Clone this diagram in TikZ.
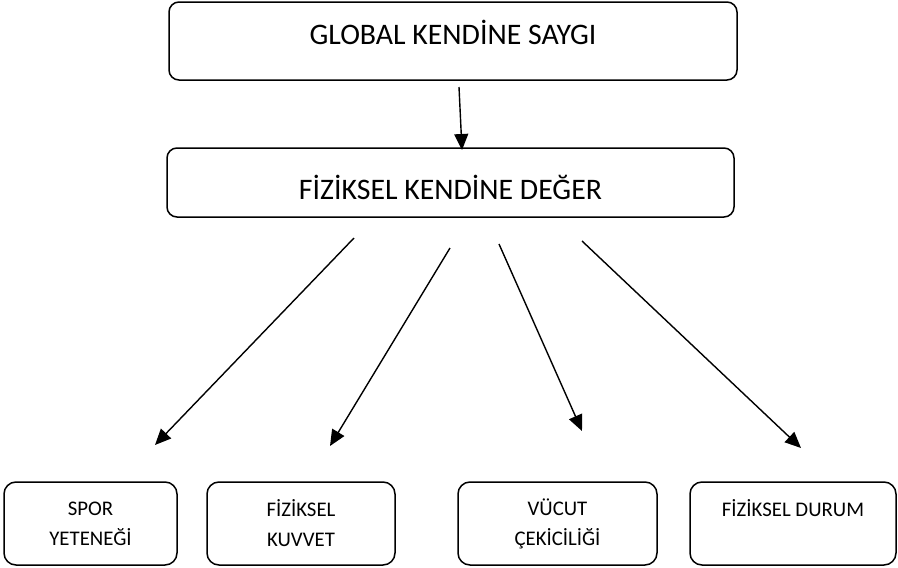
\documentclass[tikz,border=0pt]{standalone}
\usepackage{fontspec}
\setmainfont{Carlito}
\usetikzlibrary{arrows.meta}

\begin{document}
\begin{tikzpicture}
[x=1pt, y=-1pt, line width=1.5pt]
\tikzstyle{bigbox}=[draw, rounded corners=10pt, inner sep=0pt, font=\fontsize{29.8}{35}\selectfont]
\tikzstyle{smallbox}=[draw, rounded corners=12pt, inner sep=0pt, minimum height=83pt, align=center, font=\fontsize{20.8}{30}\selectfont]
\tikzstyle{link}=[-{Triangle[length=16pt, width=14pt]}, line width=1.4pt]
\useasboundingbox (0,0) rectangle (898,568);

\node[bigbox, minimum width=568pt, minimum height=78pt, text height=19pt, text depth=12pt] (GKS) at (453,41)  {GLOBAL KENDİNE SAYGI};
\node[bigbox, minimum width=567pt, minimum height=69pt, text height=34pt, text depth=0pt]  (FKD) at (450.5,182.5) {FİZİKSEL KENDİNE DEĞER};

\node[smallbox, minimum width=173pt] (SY) at (90.5,523.5)  {SPOR\\YETENEĞİ};
\node[smallbox, minimum width=188pt] (FK) at (301,523.5)   {FİZİKSEL\\KUVVET};
\node[smallbox, minimum width=199pt] (VC) at (557.5,523.5) {VÜCUT\\ÇEKİCİLİĞİ};
\node[smallbox, minimum width=206pt] (FD) at (793,523.5)   {FİZİKSEL DURUM\\\mbox{}};

\coordinate (P0)  at (459,87);
\coordinate (P0') at (462,150);
\coordinate (P1)  at (354,238);
\coordinate (P1') at (155,445);
\coordinate (P2)  at (450,248);
\coordinate (P2') at (330,446);
\coordinate (P3)  at (499,244);
\coordinate (P3') at (582,431);
\coordinate (P4)  at (582,241);
\coordinate (P4') at (801,448);

\draw[link] (P0)--(P0');
\draw[link] (P1)--(P1');
\draw[link] (P2)--(P2');
\draw[link] (P3)--(P3');
\draw[link] (P4)--(P4');
\end{tikzpicture}
\end{document}
